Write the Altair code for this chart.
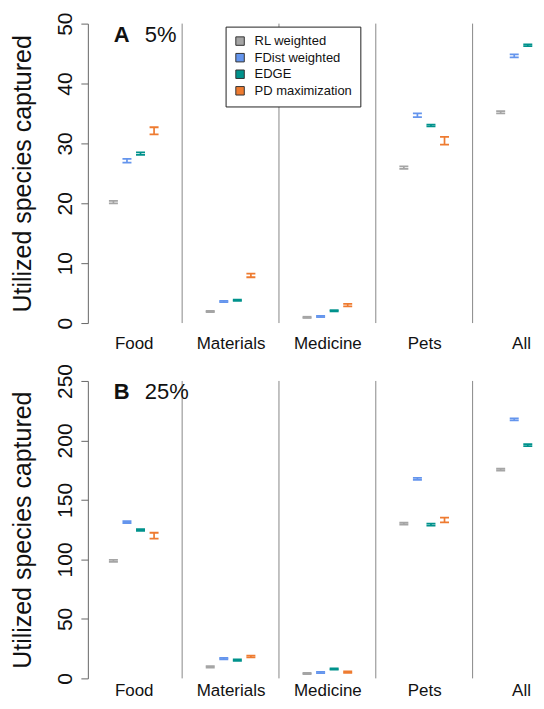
import altair as alt
import pandas as pd

FONT = "Liberation Sans"

categories = ["Food", "Materials", "Medicine", "Pets", "All"]
methods = ["RL weighted", "FDist weighted", "EDGE", "PD maximization"]
palette = ["#A5A5A5", "#6495ED", "#00928C", "#EE7B30"]
legend_edges = ["#333333", "#333333", "#333333", "#333333"]

# Panel A: 5% -- mean and error half-width per category
a_rl = [20.2, 1.95, 0.95, 25.95, 35.2]
a_fdist = [27.1, 3.6, 1.1, 34.7, 44.6]
a_edge = [28.3, 3.8, 2.05, 33.0, 46.4]
a_pd = [32.1, 7.95, 3.0, 30.45, 48.65]
a_rl_err = [0.2, 0.1, 0.1, 0.2, 0.2]
a_fdist_err = [0.3, 0.1, 0.1, 0.3, 0.25]
a_edge_err = [0.2, 0.1, 0.1, 0.15, 0.15]
a_pd_err = [0.6, 0.3, 0.2, 0.65, 0.55]

# Panel B: 25%
b_rl = [98.8, 9.7, 4.2, 130.0, 175.4]
b_fdist = [131.4, 16.7, 5.0, 167.7, 217.7]
b_edge = [124.7, 15.3, 7.8, 129.2, 196.1]
b_pd = [119.9, 18.4, 5.3, 133.1, 193.6]
b_rl_err = [0.8, 0.6, 0.5, 0.8, 0.8]
b_fdist_err = [0.8, 0.6, 0.5, 0.8, 0.8]
b_edge_err = [0.8, 0.6, 0.5, 0.8, 0.8]
b_pd_err = [2.5, 0.8, 0.6, 2.0, 2.0]

method_offsets = [-0.21, -0.07, 0.07, 0.21]


def build(means, errs):
    rows = []
    for mi, (m, vals, es) in enumerate(zip(methods, means, errs)):
        for ci, (c, v, e) in enumerate(zip(categories, vals, es)):
            rows.append({"category": c, "method": m, "xpos": ci + method_offsets[mi],
                         "mean": v, "lo": v - e, "hi": v + e})
    return pd.DataFrame(rows)


df_a = build([a_rl, a_fdist, a_edge, a_pd], [a_rl_err, a_fdist_err, a_edge_err, a_pd_err])
df_b = build([b_rl, b_fdist, b_edge, b_pd], [b_rl_err, b_fdist_err, b_edge_err, b_pd_err])
separators = pd.DataFrame({"sep": [i + 0.5 for i in range(len(categories) - 1)]})

W = 449
XMIN = -0.474
XMAX = XMIN + W / 97.0
label_expr = "[" + ",".join("'%s'" % c for c in categories) + "][datum.value]"


def panel(df, ymax, step, letter, pct, show_legend, H, xpad):
    xaxis = alt.Axis(values=list(range(len(categories))), labelExpr=label_expr, domain=False,
                     ticks=False, tickSize=0, grid=False, labelFontSize=17, labelPadding=xpad,
                     labelFont=FONT, labelColor="#111", title=None)
    xscale = alt.Scale(domain=[XMIN, XMAX], nice=False, zero=False)
    yaxis = alt.Axis(values=list(range(0, ymax + 1, step)), grid=False, domain=True,
                     domainColor="#666", tickColor="#666", tickSize=7, labelAngle=270,
                     labelAlign="center", labelBaseline="bottom", labelPadding=5,
                     labelFontSize=21, labelFont=FONT, labelColor="#111",
                     title="Utilized species captured", titleFontSize=25, titleFont=FONT,
                     titleFontWeight="normal", titleColor="#111", titlePadding=19)
    yscale = alt.Scale(domain=[0, ymax], nice=False, zero=True)

    def X(f):
        return alt.X(f, scale=xscale, axis=xaxis)

    def Y(f):
        return alt.Y(f, scale=yscale, axis=yaxis)

    cscale = alt.Scale(domain=methods, range=palette)
    col = alt.Color("method:N", scale=cscale, legend=None)

    base = alt.Chart(df)
    layers = []
    if show_legend:
        lg = alt.Legend(
            title=None, orient="none", legendX=138, legendY=3, symbolType="square",
            symbolSize=72, symbolStrokeWidth=1, symbolOpacity=1,
            labelFontSize=13, labelFont=FONT, labelColor="#111", strokeColor="#222",
            fillColor="white", padding=8, rowPadding=2.6, labelOffset=8)
        leg = base.mark_square(filled=True, strokeWidth=1, opacity=1).encode(
            x=X("xpos:Q"), y=Y("mean:Q"),
            fill=alt.Fill("method:N", scale=cscale, legend=lg),
            stroke=alt.Stroke("method:N", scale=alt.Scale(domain=methods, range=legend_edges), legend=lg),
        ).transform_filter("false")
        layers.append(leg)
    seps = alt.Chart(separators).mark_rule(color="#888", strokeWidth=1).encode(
        x=X("sep:Q"), y=alt.value(0), y2=alt.value(H))
    bars = base.mark_rule(strokeWidth=1.7, clip=True, opacity=1).encode(
        x=X("xpos:Q"), y=Y("lo:Q"), y2="hi:Q", color=col)
    cap_lo = base.mark_tick(orient="horizontal", size=9, thickness=1.8, clip=True, opacity=1).encode(
        x=X("xpos:Q"), y=Y("lo:Q"), color=col)
    cap_hi = base.mark_tick(orient="horizontal", size=9, thickness=1.8, clip=True, opacity=1).encode(
        x=X("xpos:Q"), y=Y("hi:Q"), color=col)
    t1 = alt.Chart(pd.DataFrame({"t": [letter]})).mark_text(
        font=FONT, fontSize=22, fontWeight="bold", align="left", baseline="alphabetic", color="#111"
    ).encode(text="t:N", x=alt.value(26), y=alt.value(18))
    t2 = alt.Chart(pd.DataFrame({"t": [pct]})).mark_text(
        font=FONT, fontSize=22, align="left", baseline="alphabetic", color="#111"
    ).encode(text="t:N", x=alt.value(57), y=alt.value(18))
    layers += [seps, bars, cap_lo, cap_hi, t1, t2]
    return alt.layer(*layers).properties(width=W, height=H)


pa = panel(df_a, 50, 10, "A", "5%", True, 300, 12)
pb = panel(df_b, 250, 50, "B", "25%", False, 298, 4)

chart = alt.vconcat(pa, pb, spacing=12).resolve_scale(
    color="independent", fill="independent", stroke="independent"
).properties(
    padding={"left": 2, "top": 3, "right": 0, "bottom": 0}
).configure_view(stroke=None)

chart.save("out.html", embed_options={"renderer": "svg", "actions": False})
